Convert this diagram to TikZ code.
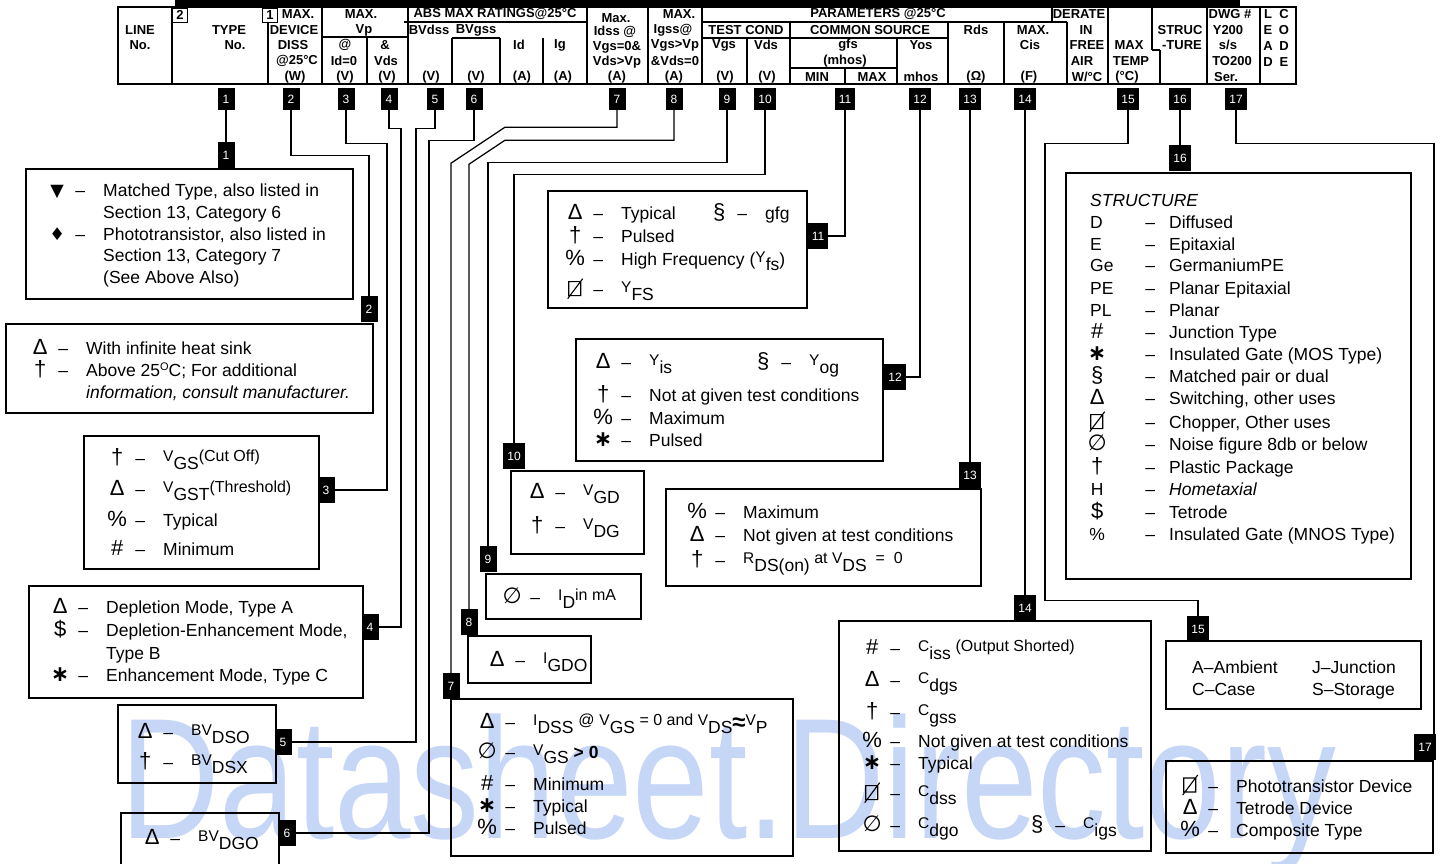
\documentclass[tikz,border=0pt]{standalone}
\usepackage{fontspec}
\setmainfont{Liberation Sans}
\newfontfamily\symf{DejaVu Sans}
\definecolor{wm}{RGB}{198,214,246}

\newcommand{\keysub}[2]{\raisebox{3pt}{\fontsize{15.5}{15.5}\selectfont #1}\raisebox{-5pt}[0pt][0pt]{#2}}
\newcommand{\keyup}[1]{\raisebox{3pt}{\fontsize{16}{16}\selectfont #1}}
\newcommand{\bigsym}[1]{{\fontsize{22}{22}\selectfont #1}}
\newcommand{\keyrow}[2]{\makebox[20pt]{\bigsym{#1}}\hspace{5pt}\makebox[16pt]{–}\hspace{15pt}#2}
\newcommand{\keycont}[1]{\hspace{56pt}#1}
\newcommand{\keystruct}[2]{\makebox[52pt][l]{#1}\makebox[16pt]{–}\hspace{11pt}#2}
\newcommand{\sqslash}{\tikz[baseline=0pt, x=1pt, y=1pt, line width=1.1pt]{\draw (0,0) rectangle (12,14) (-1,-3) -- (14,17);}}

\begin{document}
\begin{tikzpicture}[x=1pt, y=-1pt,
  tag/.style={fill=black, text=white, inner xsep=4pt, inner ysep=1pt, minimum width=17, minimum height=22, font=\fontsize{12}{12}\selectfont},
  box/.style={draw, line width=1.6pt, anchor=north west, inner sep=0},
  key/.style={anchor=base west, inner sep=0, font=\fontsize{17.5}{22}\selectfont},
  hd/.style={inner sep=0, font=\bfseries\fontsize{13}{13}\selectfont},
  cell/.style={line width=1.1pt},
  wire/.style={line width=1.3pt}]
\useasboundingbox (0,0) rectangle (1443,864);
\clip (0,0) rectangle (1443,864);
\node[anchor=base west, inner sep=0, text=wm, xscale=0.8, font=\fontsize{172}{172}\selectfont] (wm) at (120,838) {Datasheet.Directory};

% table heading
\fill (175,0) rectangle (1240,8);
\draw[line width=1.8pt] (118,7) rectangle (1296,84);
\draw[cell] \foreach \x/\a/\b in {172/7/84, 268/22/84, 322/7/84, 367/38/84, 408/7/84, 452/38/84, 500/38/84, 543/38/84, 587/7/84, 648/7/84, 702/7/84, 747/38/84, 790/22/84, 845/68/84, 897/38/84, 948/22/84, 1004/22/84, 1067/22/84, 1108/7/84, 1152/7/50, 1160/50/84, 1207/7/84, 1260/7/84} {(\x,\a) -- (\x,\b)};
\draw[cell] (404,22) -- (587,22) (702,22) -- (1067,22) (322,37) -- (408,37) (452,38) -- (500,38) (702,38) -- (948,38) (790,68) -- (897,68) (1152,50) -- (1160,50) (1052,7) -- (1052,22);
\node[hd, draw, minimum width=15, minimum height=14] (sq2) at (180,15) {2};
\node[hd, draw, minimum width=15, minimum height=14] (sq1) at (270,15) {1};
\foreach \x/\y/\t [count=\i] in {140/30/LINE, 140/45/No., 229/30/TYPE, 235/45/No.,
  298/14/MAX., 294/30/DEVICE, 293/45/DISS, 297/61/@25°C, 295/77/(W),
  361/14/MAX., 364/30/Vp, 345/45/@, 344/61/Id=0, 345/77/(V), 385/45/\&, 386/61/Vds, 387/77/(V),
  495/14/ABS MAX RATINGS@25°C, 429/30/BVdss, 476/30/BVgss, 431/77/(V), 476/77/(V),
  519/45/Id, 522/77/(A), 560/45/Ig, 563/77/(A),
  616/18/Max., 615/32/Idss @, 617/47/Vgs=0\&, 617/62/Vds>Vp, 617/77/(A),
  679/14/MAX., 673/30/Igss@, 675/45/Vgs>Vp, 675/61/\&Vds=0, 674/77/(A),
  878/14/PARAMETERS @25°C, 746/30/TEST COND, 724/45/Vgs, 725/77/(V), 766/45/Vds, 767/77/(V),
  870/30/COMMON SOURCE, 848/45/gfs, 845/61/(mhos), 817/77/MIN, 872/77/MAX, 921/45/Yos, 921/77/mhos,
  976/30/Rds, 976/77/(Ω), 1079/14/DERATE, 1033/30/MAX., 1030/45/Cis, 1029/77/(F),
  1086/30/IN, 1087/45/FREE, 1082/61/AIR, 1087/77/{W/°C},
  1129/45/MAX, 1131/61/TEMP, 1127/77/(°C), 1180/30/STRUC, 1182/45/-TURE,
  1230/14/DWG \#, 1228/30/Y200, 1228/45/{s/s}, 1232/61/TO200, 1226/77/Ser.}
  \node[hd] (hd\i) at (\x,\y) {\t};
\foreach \c/\d [count=\i] in {L/C, E/O, A/D, D/E} {
  \node[hd] (la\i) at (1268,{16*\i-2}) {\c};
  \node[hd] (lb\i) at (1284,{16*\i-2}) {\d};
}
\foreach \n/\x in {1/226, 2/291, 3/346, 4/389, 5/435, 6/474, 7/617, 8/674, 9/727, 10/765, 11/845, 12/920, 13/970, 14/1025, 15/1128, 16/1180, 17/1236}
  \node[tag] (h\n) at (\x,99) {\n};

% key boxes
\foreach \n/\x/\y/\w/\h in {1/25/168/327/130, 2/5/323/367/89, 3/83/435/235/133, 4/28/585/334/112, 5/117/704/158/78, 6/120/812/158/70, 7/450/698/342/157, 8/467/635/123/47, 9/485/573/155/45, 10/510/470/133/83, 11/547/190/259/117, 12/575/338/307/122, 13/665/488/315/97, 14/838/620/312/230, 15/1165/640/255/68, 16/1065/172/345/406, 17/1165/760/267/92}
  \node[box, minimum width=\w, minimum height=\h] (b\n) at (\x,\y) {};
\foreach \n/\x/\y in {1/226/155, 2/369/309, 3/326/490, 4/370/627, 5/283/742, 6/287/833, 7/451/686, 8/469/622, 9/488/559, 10/514/456, 11/818/236, 12/895/377, 13/970/475, 14/1025/608, 15/1198/629, 16/1180/158, 17/1425/747}
  \node[tag, minimum height=26] (m\n) at (\x,\y) {\n};

\draw[wire] (h1.south) -- (m1.north);
\draw[wire] (h2.south) -- ++(0,45) -| (m2.north);
\draw[wire] (h3.south) -- ++(0,33) -- ++(41,0) |- (m3.east);
\draw[wire] (h4.south) -- ++(0,18) -- ++(12,0) |- (m4.east);
\draw[wire] (h5.south) -- ++(0,18) -- ++(-19,0) |- (m5.east);
\draw[wire] (h6.south) -- ++(0,30) -- ++(-45,0) |- (m6.east);
\draw[wire] (h7.south) -- ++(0,17) -- ++(-112,0) -- ++(-54,36) -- (m7.north);
\draw[wire] (h8.south) -- ++(0,30) -- ++(-169,0) -- ++(-36,24) -- (m8.north);
\draw[wire] (h9.south) -- ++(0,52) -| (m9.north);
\draw[wire] (h10.south) -- ++(0,64) -| (m10.north);
\draw[wire] (h11.south) |- (m11.east);
\draw[wire] (h12.south) |- (m12.east);
\draw[wire] (h13.south) -- (m13.north);
\draw[wire] (h14.south) -- (m14.north);
\draw[wire] (h15.south) -- ++(0,33) -- ++(-83,0) -- ++(0,457) -| (m15.north);
\draw[wire] (h16.south) -- (m16.north);
\draw[wire] (h17.south) -- ++(0,33) -| ([xshift=9pt]m17.north);

\node[key] (k1) at (47,196) {\begin{tabular}[t]{@{}l@{}}
  \makebox[20pt]{\symf ▼}\hspace{5pt}\makebox[16pt]{–}\hspace{15pt}Matched Type, also listed in\\
  \keycont{Section 13, Category 6}\\
  \makebox[20pt]{\symf ♦}\hspace{5pt}\makebox[16pt]{–}\hspace{15pt}Phototransistor, also listed in\\
  \keycont{Section 13, Category 7}\\
  \keycont{(See Above Also)}
\end{tabular}};
\node[key] (k2) at (30,354) {\begin{tabular}[t]{@{}l@{}}
  \keyrow{Δ}{With infinite heat sink}\\
  \keyrow{†}{Above 25\raisebox{6pt}{\fontsize{11}{11}\selectfont O}C; For additional}\\
  \keycont{\itshape information, consult manufacturer.}
\end{tabular}};
\node[key] (k3) at (107,464) {\begin{tabular}[t]{@{}l@{}}
  \keyrow{†}{\keysub{V}{GS}\keyup{(Cut Off)}}\\[9pt]
  \keyrow{Δ}{\keysub{V}{GST}\keyup{(Threshold)}}\\[9pt]
  \keyrow{\%}{Typical}\\[7pt]
  \keyrow{\#}{Minimum}
\end{tabular}};
\node[key] (k4) at (50,613) {\begin{tabular}[t]{@{}l@{}}
  \keyrow{Δ}{Depletion Mode, Type A}\\[0.7pt]
  \keyrow{\$}{Depletion-Enhancement Mode,}\\[0.7pt]
  \keycont{Type B}\\[0.7pt]
  \keyrow{\symf\bfseries ∗}{Enhancement Mode, Type C}
\end{tabular}};
\node[key] (k5) at (135,738) {\begin{tabular}[t]{@{}l@{}}
  \keyrow{Δ}{\keysub{BV}{DSO}}\\[8pt]
  \keyrow{†}{\keysub{BV}{DSX}}
\end{tabular}};
\node[key] (k6) at (142,844) {\keyrow{Δ}{\keysub{BV}{DGO}}};
\node[key] (k7) at (477,728) {\begin{tabular}[t]{@{}l@{}}
  \keyrow{Δ}{\keysub{I}{DSS}\ \keyup{@}\ \keysub{V}{GS}\keyup{ = 0 and }\keysub{V}{DS}\raisebox{-2pt}{\fontsize{24}{24}\selectfont\bfseries ≈}\keysub{V}{P}}\\[8pt]
  \keyrow{\symf ∅}{\keysub{V}{GS}\ \textbf{> 0}}\\[10pt]
  \keyrow{\#}{Minimum}\\
  \keyrow{\symf\bfseries ∗}{Typical}\\
  \keyrow{\%}{Pulsed}
\end{tabular}};
\node[key] (k8) at (487,666) {\keyrow{Δ}{\keysub{I}{GDO}}};
\node[key] (k9) at (502,603) {\keyrow{\symf ∅}{\keysub{I}{D}\keyup{in mA}}};
\node[key] (k10) at (527,498) {\begin{tabular}[t]{@{}l@{}}
  \keyrow{Δ}{\keysub{V}{GD}}\\[12pt]
  \keyrow{†}{\keysub{V}{DG}}
\end{tabular}};
\node[key] (k11) at (565,219) {\begin{tabular}[t]{@{}l@{}}
  \makebox[144pt][l]{\keyrow{Δ}{Typical}}\keyrow{§}{gfg}\\[1pt]
  \keyrow{†}{Pulsed}\\[1pt]
  \keyrow{\%}{High Frequency (\keysub{Y}{fs})}\\[6pt]
  \keyrow{\sqslash}{\keysub{Y}{FS}}
\end{tabular}};
\node[key] (k12) at (593,368) {\begin{tabular}[t]{@{}l@{}}
  \makebox[160pt][l]{\keyrow{Δ}{\keysub{Y}{is}}}\keyrow{§}{\keysub{Y}{og}}\\[11pt]
  \keyrow{†}{Not at given test conditions}\\[1pt]
  \keyrow{\%}{Maximum}\\
  \keyrow{\symf\bfseries ∗}{Pulsed}
\end{tabular}};
\node[key] (k13) at (687,518) {\begin{tabular}[t]{@{}l@{}}
  \keyrow{\%}{Maximum}\\[1pt]
  \keyrow{Δ}{Not given at test conditions}\\[3pt]
  \keyrow{†}{\keysub{R}{DS(on)}\keyup{\ at\ }\keysub{V}{DS}\keyup{\ \ =\ \ 0}}
\end{tabular}};
\node[key] (k14) at (862,654) {\begin{tabular}[t]{@{}l@{}}
  \keyrow{\#}{\keysub{C}{iss}\ \keyup{(Output Shorted)}}\\[10pt]
  \keyrow{Δ}{\keysub{C}{dgs}}\\[10pt]
  \keyrow{†}{\keysub{C}{gss}}\\[7pt]
  \keyrow{\%}{Not given at test conditions}\\
  \keyrow{\symf\bfseries ∗}{Typical}\\[6pt]
  \keyrow{\sqslash}{\keysub{C}{dss}}\\[9pt]
  \makebox[165pt][l]{\keyrow{\symf ∅}{\keysub{C}{dgo}}}\keyrow{§}{\keysub{C}{igs}}
\end{tabular}};
\node[key] (k15) at (1192,673) {\begin{tabular}[t]{@{}l@{}}
  \makebox[120pt][l]{A–Ambient}J–Junction\\
  \makebox[120pt][l]{C–Case}S–Storage
\end{tabular}};
\node[key] (k16) at (1090,206) {\begin{tabular}[t]{@{}l@{}}
  \itshape STRUCTURE\\
  \keystruct{D}{Diffused}\\
  \keystruct{E}{Epitaxial}\\
  \keystruct{Ge}{GermaniumPE}\\
  \keystruct{PE}{Planar Epitaxial}\\
  \keystruct{PL}{Planar}\\
  \keystruct{\makebox[14pt]{\bigsym{\#}}}{Junction Type}\\
  \keystruct{\makebox[14pt]{\bigsym{\symf\bfseries ∗}}}{Insulated Gate (MOS Type)}\\
  \keystruct{\makebox[14pt]{\bigsym{§}}}{Matched pair or dual}\\
  \keystruct{\makebox[14pt]{\bigsym{Δ}}}{Switching, other uses}\\
  \keystruct{\makebox[14pt]{\sqslash}}{Chopper, Other uses}\\
  \keystruct{\makebox[14pt]{\bigsym{\symf ∅}}}{Noise figure 8db or below}\\
  \keystruct{\makebox[14pt]{\bigsym{†}}}{Plastic Package}\\
  \keystruct{\makebox[14pt]{H}}{\itshape Hometaxial}\\
  \keystruct{\makebox[14pt]{\bigsym{\$}}}{Tetrode}\\
  \keystruct{\makebox[14pt]{\%}}{Insulated Gate (MNOS Type)}
\end{tabular}};
\node[key] (k17) at (1180,792) {\begin{tabular}[t]{@{}l@{}}
  \keyrow{\sqslash}{Phototransistor Device}\\
  \keyrow{Δ}{Tetrode Device}\\
  \keyrow{\%}{Composite Type}
\end{tabular}};
\end{tikzpicture}
\end{document}
